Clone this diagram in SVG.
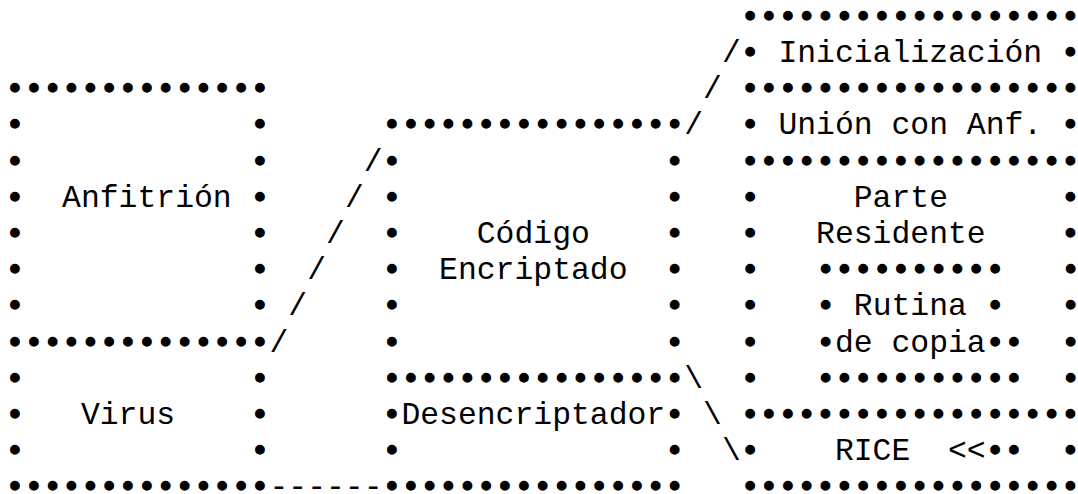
<svg xmlns="http://www.w3.org/2000/svg" width="1078" height="494" viewBox="0 0 1078 494">
  <style>
    text { font-family: "Liberation Mono", "DejaVu Sans Mono", monospace; font-size: 31.4px; fill: #000; white-space: pre; }
    .b { stroke: #000; stroke-width: 1.3px; }
  </style>
  <!-- character grid: column c starts at x = 5.6 + 18.85*c, row r baseline at y = 25.7 + 36.2*r -->
  <rect width="1078" height="494" fill="#fff"/>

  <!-- host program -->
  <g id="host" xml:space="preserve">
    <text class="b" x="5.6" y="98.1">••••••••••••••</text>
    <text class="b" x="5.6" y="134.3">•            •</text>
    <text class="b" x="5.6" y="170.5">•            •</text>
    <text x="5.6" y="206.7"><tspan class="b">•</tspan>  Anfitrión <tspan class="b">•</tspan></text>
    <text class="b" x="5.6" y="242.9">•            •</text>
    <text class="b" x="5.6" y="279.1">•            •</text>
    <text class="b" x="5.6" y="315.3">•            •</text>
    <text class="b" x="5.6" y="351.5">••••••••••••••</text>
  </g>

  <!-- virus block -->
  <g id="virus" xml:space="preserve">
    <text class="b" x="5.6" y="387.7">•            •</text>
    <text x="5.6" y="423.9"><tspan class="b">•</tspan>   Virus    <tspan class="b">•</tspan></text>
    <text class="b" x="5.6" y="460.1">•            •</text>
    <text class="b" x="5.6" y="496.3">••••••••••••••</text>
  </g>

  <!-- encrypted code -->
  <g id="encrypted-code" xml:space="preserve">
    <text class="b" x="382.6" y="134.3">••••••••••••••••</text>
    <text class="b" x="382.6" y="170.5">•              •</text>
    <text class="b" x="382.6" y="206.7">•              •</text>
    <text x="382.6" y="242.9"><tspan class="b">•</tspan>    Código    <tspan class="b">•</tspan></text>
    <text x="382.6" y="279.1"><tspan class="b">•</tspan>  Encriptado  <tspan class="b">•</tspan></text>
    <text class="b" x="382.6" y="315.3">•              •</text>
    <text class="b" x="382.6" y="351.5">•              •</text>
    <text class="b" x="382.6" y="387.7">••••••••••••••••</text>
  </g>

  <!-- decryptor -->
  <g id="decryptor" xml:space="preserve">
    <text x="382.6" y="423.9"><tspan class="b">•</tspan>Desencriptador<tspan class="b">•</tspan></text>
    <text class="b" x="382.6" y="460.1">•              •</text>
    <text class="b" x="382.6" y="496.3">••••••••••••••••</text>
  </g>

  <!-- initialisation -->
  <g id="init" xml:space="preserve">
    <text class="b" x="740.75" y="25.7">••••••••••••••••••</text>
    <text x="740.75" y="61.9"><tspan class="b">•</tspan> Inicialización <tspan class="b">•</tspan></text>
    <text class="b" x="740.75" y="98.1">••••••••••••••••••</text>
  </g>

  <!-- link with host -->
  <g id="host-link" xml:space="preserve">
    <text x="740.75" y="134.3"><tspan class="b">•</tspan> Unión con Anf. <tspan class="b">•</tspan></text>
    <text class="b" x="740.75" y="170.5">••••••••••••••••••</text>
  </g>

  <!-- resident part -->
  <g id="resident" xml:space="preserve">
    <text x="740.75" y="206.7"><tspan class="b">•</tspan>     Parte      <tspan class="b">•</tspan></text>
    <text x="740.75" y="242.9"><tspan class="b">•</tspan>   Residente    <tspan class="b">•</tspan></text>
    <text class="b" x="740.75" y="279.1">•</text>
    <text class="b" x="1061.2" y="279.1">•</text>
    <text class="b" x="740.75" y="315.3">•</text>
    <text class="b" x="1061.2" y="315.3">•</text>
    <text class="b" x="740.75" y="351.5">•</text>
    <text class="b" x="1061.2" y="351.5">•</text>
    <text class="b" x="740.75" y="387.7">•</text>
    <text class="b" x="1061.2" y="387.7">•</text>
  </g>

  <!-- copy routine, nested in the resident part -->
  <g id="copy-routine" xml:space="preserve">
    <text class="b" x="816.15" y="279.1">••••••••••</text>
    <text x="816.15" y="315.3"><tspan class="b">•</tspan> Rutina <tspan class="b">•</tspan></text>
    <text x="816.15" y="351.5"><tspan class="b">•</tspan>de copia<tspan class="b">••</tspan></text>
    <text class="b" x="816.15" y="387.7">•••••••••••</text>
  </g>

  <!-- RICE -->
  <g id="rice" xml:space="preserve">
    <text class="b" x="740.75" y="423.9">••••••••••••••••••</text>
    <text x="740.75" y="460.1"><tspan class="b">•</tspan>    RICE  &lt;&lt;<tspan class="b">••</tspan>  <tspan class="b">•</tspan></text>
    <text class="b" x="740.75" y="496.3">••••••••••••••••••</text>
  </g>

  <!-- connectors -->
  <g id="connectors" xml:space="preserve">
    <text x="721.9" y="61.9">/</text>
    <text x="703.05" y="98.1">/</text>
    <text x="684.2" y="134.3">/</text>
    <text x="363.75" y="170.5">/</text>
    <text x="344.9" y="206.7">/</text>
    <text x="326.05" y="242.9">/</text>
    <text x="307.2" y="279.1">/</text>
    <text x="288.35" y="315.3">/</text>
    <text x="269.5" y="351.5">/</text>
    <text x="684.2" y="387.7">\</text>
    <text x="703.05" y="423.9">\</text>
    <text x="721.9" y="460.1">\</text>
    <text x="269.5" y="496.3">------</text>
  </g>
</svg>
